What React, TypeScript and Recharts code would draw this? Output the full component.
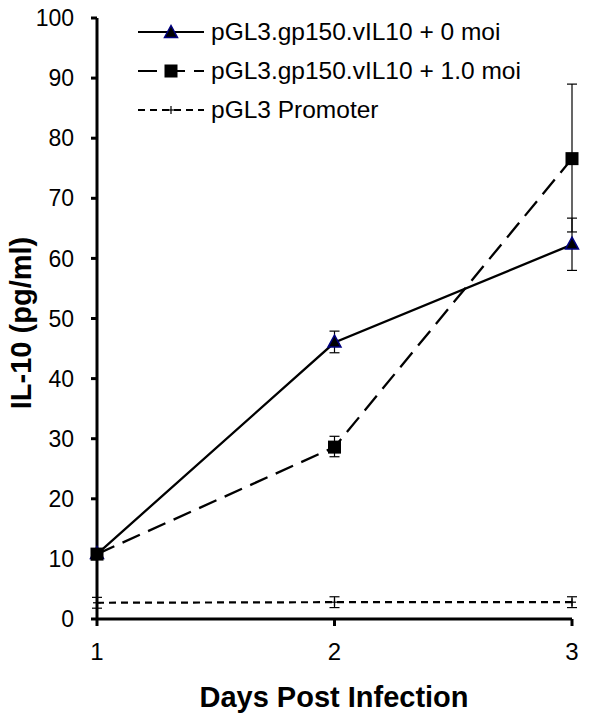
import React from 'react';
import { LineChart, Line, XAxis, YAxis, ErrorBar, Label } from 'recharts';

const days = [1, 2, 3];
const moi0 = [10.8, 46.0, 62.3];
const moi0Err = [[0.5, 0.5], [1.7, 1.9], [4.3, 4.4]];
const moi1 = [10.8, 28.6, 76.6];
const moi1Err = [[0.5, 0.5], [1.6, 1.8], [12.2, 12.4]];
const promoter = [2.7, 2.8, 2.8];
const promoterErr = [[0.9, 0.9], [0.9, 0.9], [0.9, 0.9]];
const yTicks = [0, 10, 20, 30, 40, 50, 60, 70, 80, 90, 100];
const seriesNames = ['pGL3.gp150.vIL10 + 0 moi', 'pGL3.gp150.vIL10 + 1.0 moi', 'pGL3 Promoter'];

const data = days.map((d, i) => ({
  day: d,
  s1: moi0[i],
  s1Err: moi0Err[i],
  s2: moi1[i],
  s2Err: moi1Err[i],
  s3: promoter[i],
  s3Err: promoterErr[i],
}));

const FONT = '"Liberation Sans", Arial, Helvetica, sans-serif';

const Triangle = (props: any) => {
  const { cx, cy } = props;
  if (cx == null || cy == null) return <g key={props.key} />;
  return (
    <polygon
      key={props.key}
      points={`${cx},${cy - 7.5} ${cx - 6.5},${cy + 4.5} ${cx + 6.5},${cy + 4.5}`}
      fill="#000"
      stroke="#000080"
      strokeWidth={1.5}
    />
  );
};

const Square = (props: any) => {
  const { cx, cy } = props;
  if (cx == null || cy == null) return <g key={props.key} />;
  return <rect key={props.key} x={cx - 6.5} y={cy - 6.5} width={13} height={13} fill="#000" />;
};

const Plus = (props: any) => {
  const { cx, cy } = props;
  if (cx == null || cy == null) return <g key={props.key} />;
  return (
    <g key={props.key} stroke="#000" strokeWidth={1.2}>
      <line x1={cx - 4} y1={cy} x2={cx + 4} y2={cy} />
      <line x1={cx} y1={cy - 4} x2={cx} y2={cy + 4} />
    </g>
  );
};

const legendRows = [
  { name: seriesNames[0], dash: undefined as string | undefined, marker: 'tri' },
  { name: seriesNames[1], dash: '19 9', marker: 'sq' },
  { name: seriesNames[2], dash: '7 5', marker: 'plus' },
];

const LegendBox = () => (
  <div style={{ position: 'absolute', top: 12, left: 138, fontFamily: FONT, fontSize: 24.5, color: '#000', lineHeight: '24px' }}>
    {legendRows.map((r, i) => (
      <div key={i} style={{ display: 'flex', alignItems: 'center', height: 39 }}>
        <svg width={66} height={20} style={{ marginRight: 7 }}>
          <line x1={0} y1={10} x2={66} y2={10} stroke="#000" strokeWidth={2.2} strokeDasharray={r.dash} />
          {r.marker === 'tri' && Triangle({ cx: 33, cy: 11, key: 't' })}
          {r.marker === 'sq' && Square({ cx: 33, cy: 10, key: 's' })}
          {r.marker === 'plus' && Plus({ cx: 33, cy: 10, key: 'p' })}
        </svg>
        <span>{r.name}</span>
      </div>
    ))}
  </div>
);

export default function App() {
  return (
    <div style={{ margin: -8, width: 600, height: 723, background: '#fff', position: 'relative' }}>
      <LineChart width={600} height={723} data={data} margin={{ top: 18, right: 28, bottom: 0, left: 0 }}>
        <XAxis
          type="number"
          dataKey="day"
          domain={[1, 3]}
          ticks={days}
          height={104}
          stroke="#000"
          strokeWidth={3}
          axisLine={{ stroke: '#000', strokeWidth: 3 }}
          tickLine={{ stroke: '#000', strokeWidth: 3 }}
          tickSize={7}
          tickMargin={17}
          tick={{ fill: '#000', fontSize: 24, fontFamily: FONT, strokeWidth: 0 }}
        >
          <Label
            content={() => (
              <text x={334} y={707} textAnchor="middle" fontFamily={FONT} fontSize={29} fontWeight="bold" fill="#000">
                Days Post Infection
              </text>
            )}
          />
        </XAxis>
        <YAxis
          type="number"
          domain={[0, 100]}
          ticks={yTicks}
          width={97}
          stroke="#000"
          strokeWidth={3}
          axisLine={{ stroke: '#000', strokeWidth: 3 }}
          tickLine={{ stroke: '#000', strokeWidth: 3 }}
          tickSize={6}
          tickMargin={17}
          tick={{ fill: '#000', fontSize: 23, fontFamily: FONT, strokeWidth: 0 }}
        >
          <Label
            content={() => (
              <text
                x={21}
                y={323}
                transform="rotate(-90, 21, 323)"
                textAnchor="middle"
                dominantBaseline="central"
                fontFamily={FONT}
                fontSize={29}
                fontWeight="bold"
                fill="#000"
              >
                IL-10 (pg/ml)
              </text>
            )}
          />
        </YAxis>
        <Line
          dataKey="s3"
          name={seriesNames[2]}
          stroke="#000"
          strokeWidth={2.2}
          strokeDasharray="7 5"
          dot={Plus}
          activeDot={false}
          isAnimationActive={false}
        >
          <ErrorBar dataKey="s3Err" width={5} stroke="#000" strokeWidth={1.2} direction="y" />
        </Line>
        <Line
          dataKey="s1"
          name={seriesNames[0]}
          stroke="#000"
          strokeWidth={2.3}
          dot={Triangle}
          activeDot={false}
          isAnimationActive={false}
        >
          <ErrorBar dataKey="s1Err" width={5} stroke="#000" strokeWidth={1.2} direction="y" />
        </Line>
        <Line
          dataKey="s2"
          name={seriesNames[1]}
          stroke="#000"
          strokeWidth={2.3}
          strokeDasharray="19 9"
          dot={Square}
          activeDot={false}
          isAnimationActive={false}
        >
          <ErrorBar dataKey="s2Err" width={5} stroke="#000" strokeWidth={1.2} direction="y" />
        </Line>
      </LineChart>
      <LegendBox />
    </div>
  );
}
